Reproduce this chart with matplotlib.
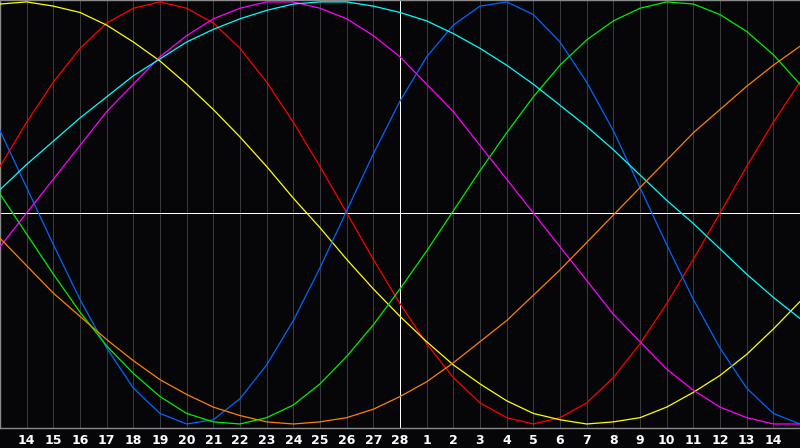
import numpy as np
from matplotlib import pyplot as plt

# day labels under each grid line (14th of one month to 14th of the next)
days = ['14', '15', '16', '17', '18', '19', '20', '21', '22', '23', '24', '25', '26', '27', '28',
        '1', '2', '3', '4', '5', '6', '7', '8', '9', '10', '11', '12', '13', '14']
today_index = 15   # the white vertical line sits on day 28

# cycle values in percent, one per day column (index 0 = left edge, 30 = right edge)
red = [22, 43, 62, 78, 90, 97, 100, 97, 90, 78, 62, 43, 22, 0, -22, -43, -62, -78, -90, -97,
       -100, -97, -90, -78, -62, -43, -22, 0, 22, 43, 62]
yellow = [99, 100, 98, 95, 89, 81, 72, 61, 49, 36, 22, 7, -7, -22, -36, -49, -61, -72, -81, -89,
          -95, -98, -100, -99, -97, -92, -85, -77, -67, -55, -42]
blue = [39, 12, -15, -41, -64, -83, -95, -100, -98, -88, -72, -51, -26, 1, 28, 53, 74, 89, 98, 100,
        94, 81, 62, 39, 12, -15, -41, -64, -83, -95, -100]
green = [9, -10, -29, -47, -63, -76, -87, -95, -99, -100, -97, -91, -81, -68, -53, -36, -18, 1, 20, 38,
         55, 70, 82, 91, 97, 100, 99, 94, 86, 75, 61]
magenta = [-16, 0, 16, 32, 48, 61, 74, 84, 92, 97, 100, 100, 97, 92, 84, 74, 61, 48, 32, 16,
           0, -16, -32, -48, -61, -74, -84, -92, -97, -100, -100]
cyan = [11, 23, 34, 45, 55, 65, 73, 81, 87, 92, 96, 99, 100, 100, 98, 95, 91, 85, 78, 70,
        61, 51, 41, 30, 18, 6, -5, -17, -29, -40, -50]
orange = [-12, -25, -38, -49, -60, -70, -79, -86, -92, -96, -99, -100, -99, -97, -93, -87, -80, -71, -61, -51,
          -39, -27, -14, -1, 12, 25, 38, 49, 60, 70, 79]

series = [(red, '#ff0000'), (yellow, '#ffff00'), (blue, '#0066ff'), (green, '#00ee00'),
          (magenta, '#ff00ff'), (cyan, '#00ffff'), (orange, '#ff8000')]

fig = plt.figure(figsize=(8, 4.48), dpi=100, facecolor='#060608')
ax = fig.add_axes([0, 20 / 448, 1, 428 / 448])
ax.set_facecolor('#060608')

x = np.arange(len(red))
ax.set_xlim(0, len(red) - 1)
ax.set_ylim(-101.9, 100.9)

# day grid, one pixel wide
for i in range(1, len(days) + 1):
    if i != today_index:
        ax.axvline(i, color='#3a3a3e', lw=0.72, antialiased=False, zorder=1)

for values, colour in series:
    ax.plot(x, values, color=colour, lw=0.9, zorder=3)

ax.axvline(today_index, color='white', lw=0.72, antialiased=False, zorder=2)
ax.axhline(0, color='white', lw=0.72, antialiased=False, zorder=2)

ax.spines['right'].set_visible(False)
for side in ['top', 'left', 'bottom']:
    ax.spines[side].set_color('#8a8a8a')
    ax.spines[side].set_linewidth(1.0)

ax.set_xticks(range(1, len(days) + 1))
ax.set_xticklabels(days, color='white', fontsize=9, fontweight='bold', family='DejaVu Sans')
ax.tick_params(axis='x', length=0, pad=4)
ax.set_yticks([])

fig.savefig('out.png', dpi=100, facecolor=fig.get_facecolor())
